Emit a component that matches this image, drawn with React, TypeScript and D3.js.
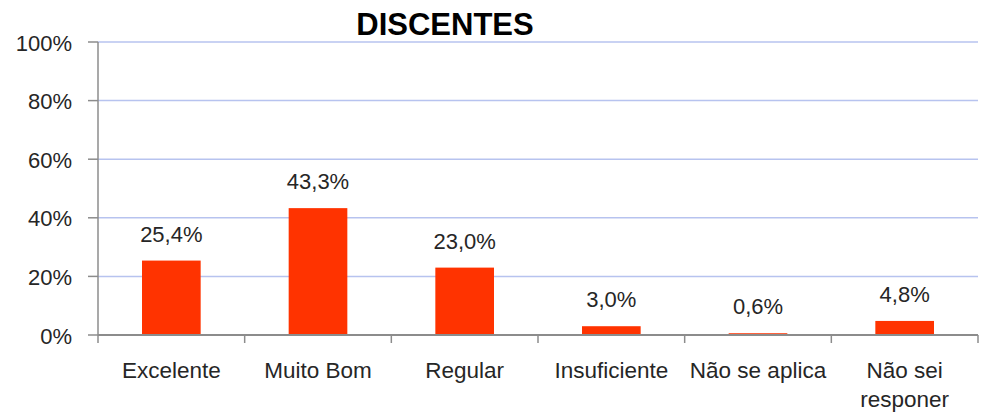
import React from "react";
import * as d3 from "d3";

const categories: string[][] = [
  ["Excelente"],
  ["Muito Bom"],
  ["Regular"],
  ["Insuficiente"],
  ["Não se aplica"],
  ["Não sei", "responer"],
];
const values: number[] = [25.4, 43.3, 23.0, 3.0, 0.6, 4.8];
const valueLabels: string[] = ["25,4%", "43,3%", "23,0%", "3,0%", "0,6%", "4,8%"];
const yTicks: number[] = [0, 20, 40, 60, 80, 100];
const title = "DISCENTES";

const W = 986;
const H = 418;
const left = 98;
const right = 978;
const top = 42;
const bottom = 335;
const FONT = "'Liberation Sans', Arial, sans-serif";

export default function App() {
  const x = d3
    .scaleBand<number>()
    .domain(values.map((_, i) => i))
    .range([left, right])
    .paddingInner(0)
    .paddingOuter(0);
  const y = d3.scaleLinear().domain([0, 100]).range([bottom, top]);
  const bw = x.bandwidth();
  const barW = bw * 0.4;
  const boundaries = d3.range(values.length + 1).map((i) => left + i * bw);

  return (
    <svg
      width={W}
      height={H}
      style={{ position: "absolute", left: 0, top: 0, background: "#fff" }}
      fontFamily={FONT}
    >
      <rect x={0} y={0} width={W} height={H} fill="#fff" />
      <text x={445} y={35} textAnchor="middle" fontSize={31} fontWeight="bold" fill="#000">
        {title}
      </text>
      {yTicks.filter((t) => t > 0).map((t) => (
        <line key={"g" + t} x1={left} x2={right} y1={y(t)} y2={y(t)} stroke="#b7c3ef" strokeWidth={1.5} />
      ))}
      {yTicks.map((t) => (
        <g key={"yt" + t}>
          <line x1={left - 10} x2={left} y1={y(t)} y2={y(t)} stroke="#8c8c8c" strokeWidth={1.5} />
          <text x={72} y={y(t) + 8.5} textAnchor="end" fontSize={22} fill="#262626">
            {t + "%"}
          </text>
        </g>
      ))}
      {values.map((v, i) => {
        const cx = (x(i) as number) + bw / 2;
        return (
          <g key={"b" + i}>
            <rect x={cx - barW / 2} y={y(v)} width={barW} height={bottom - y(v)} fill="#ff3300" />
            <text x={cx} y={y(v) - 19} textAnchor="middle" fontSize={22} fill="#262626">
              {valueLabels[i]}
            </text>
            {categories[i].map((line, j) => (
              <text key={j} x={cx} y={378 + j * 29} textAnchor="middle" fontSize={22.5} fill="#262626">
                {line}
              </text>
            ))}
          </g>
        );
      })}
      <line x1={left} x2={left} y1={top} y2={bottom} stroke="#8c8c8c" strokeWidth={1.5} />
      <line x1={left} x2={right} y1={bottom} y2={bottom} stroke="#8c8c8c" strokeWidth={2} />
      {boundaries.map((bx, i) => (
        <line key={"xt" + i} x1={bx} x2={bx} y1={bottom} y2={bottom + 8} stroke="#8c8c8c" strokeWidth={1.5} />
      ))}
    </svg>
  );
}
